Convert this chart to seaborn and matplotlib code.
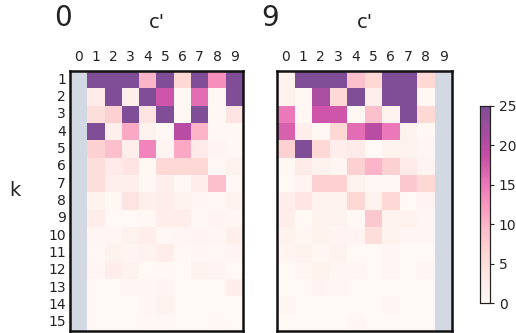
import numpy as np
import pandas as pd
import matplotlib
matplotlib.use("Agg")
import matplotlib.pyplot as plt
from matplotlib.colors import ListedColormap
import seaborn as sns

# Transition counts: rows are k (1..15), columns are c' (0..9).
# The column c' equal to the panel digit is not defined (NaN).
k_values = list(range(1, 16))
c_prime = list(range(10))
nan = np.nan

counts_0 = [
    [nan, 30, 30, 30, 10, 30, 6, 30, 13, 30],
    [nan, 3, 30, 2, 30, 18, 0.5, 16, 0.5, 30],
    [nan, 5, 7, 30, 4, 30, 0.5, 30, 0.5, 4],
    [nan, 30, 2, 11, 1.5, 0.5, 20, 10, 0.5, 0.5],
    [nan, 7, 9, 2, 14, 1, 11, 3, 1, 0.5],
    [nan, 5, 3, 4, 0.5, 6, 6, 6, 0.5, 1.5],
    [nan, 5, 2, 2, 0.5, 2, 0.5, 2.5, 9, 0.5],
    [nan, 1.5, 0.5, 4, 2, 2.5, 1.5, 0.8, 0.5, 1.5],
    [nan, 2.5, 0.3, 0.3, 0.5, 2.5, 2.5, 0.5, 1, 0.8],
    [nan, 0.6, 0.6, 1.5, 2.5, 0.5, 0.6, 1, 0.6, 2],
    [nan, 0.5, 1.5, 1, 1.5, 2.5, 0.5, 0.6, 0.5, 1],
    [nan, 0.6, 2.5, 1.5, 0.3, 0.5, 0.3, 1.5, 1, 0.3],
    [nan, 0.3, 0.3, 0.6, 0.6, 1, 0.3, 0.3, 0.3, 2.5],
    [nan, 0.3, 0.3, 0.3, 0.6, 1.5, 0.3, 0.3, 0.3, 0.3],
    [nan, 0.3, 0.3, 0.3, 0.5, 0.5, 0.3, 0.3, 0.5, 0.3],
]

counts_9 = [
    [1.5, 30, 30, 30, 9, 6, 30, 30, 6, nan],
    [1.5, 0.5, 21, 6, 30, 2, 30, 30, 0.5, nan],
    [15, 0.5, 18, 18, 0.5, 9, 1.5, 30, 6, nan],
    [17, 2.5, 0.5, 6, 16, 20, 15, 1.5, 0.5, nan],
    [7, 30, 6, 2.5, 3, 0.3, 1.5, 1.5, 0.8, nan],
    [0.5, 3, 1.5, 0.8, 7, 10, 7, 3, 1, nan],
    [0.3, 1, 7, 7, 1.5, 0.5, 0.5, 8, 6, nan],
    [2.5, 3.5, 1.5, 1.5, 6, 1.5, 6, 0.3, 1, nan],
    [2.5, 0.3, 1.5, 1.5, 0.3, 8, 1.5, 1.5, 0.8, nan],
    [1.5, 0.6, 1.5, 1, 1, 5, 1.5, 0.6, 0.6, nan],
    [1, 1.5, 0.6, 1.5, 0.3, 0.3, 0.6, 0.3, 0.3, nan],
    [0.3, 0.6, 1.5, 0.6, 0.6, 0.3, 0.6, 0.3, 0.6, nan],
    [0.3, 0.3, 1, 0.6, 0.3, 0.3, 0.3, 0.3, 0.3, nan],
    [0.6, 0.3, 0.3, 0.3, 0.3, 0.3, 0.6, 0.3, 0.3, nan],
    [0.3, 0.3, 0.3, 0.3, 0.8, 0.3, 0.3, 0.3, 0.3, nan],
]

panels = [("0", counts_0), ("9", counts_9)]

# RdPu softened toward white (as if drawn at 70% opacity on white paper)
base = plt.get_cmap("RdPu")(np.linspace(0, 1, 256))[:, :3]
soft = 0.7 * base + 0.3
cmap = ListedColormap(soft, name="RdPu_soft")

sns.set_theme(style="white")
plt.rcParams["font.family"] = ["DejaVu Sans"]

fig = plt.figure(figsize=(5.16, 3.33), dpi=100)
ax_positions = [[0.1357, 0.006, 0.335, 0.781], [0.537, 0.006, 0.339, 0.781]]
cax = fig.add_axes([0.930, 0.090, 0.0194, 0.592])

for i, (digit, counts) in enumerate(panels):
    ax = fig.add_axes(ax_positions[i])
    df = pd.DataFrame(counts, index=k_values, columns=c_prime)
    sns.heatmap(df, ax=ax, cmap=cmap, vmin=0, vmax=25,
                cbar=(i == 0), cbar_ax=cax if i == 0 else None,
                xticklabels=c_prime, yticklabels=k_values if i == 0 else False)
    ax.set_facecolor("#d3d9e3")
    ax.xaxis.tick_top()
    ax.xaxis.set_label_position("top")
    ax.tick_params(axis="both", length=0, labelsize=10, colors="#222222")
    ax.tick_params(axis="x", pad=5)
    ax.tick_params(axis="y", pad=3)
    ax.set_xticklabels(c_prime, rotation=0)
    if i == 0:
        ax.set_yticklabels(k_values, rotation=0)
        ax.set_ylabel("k", fontsize=14, rotation=0, color="#222222",
                      va="center", ha="center")
        ax.yaxis.set_label_coords(-0.32, 0.54)
    else:
        ax.set_ylabel("")
    ax.set_xlabel("c'", fontsize=14, labelpad=16, color="#222222")
    ax.set_title(digit, fontsize=20, loc="left", x=-0.09, y=1.14, color="#222222")
    for s in ax.spines.values():
        s.set_visible(True)
        s.set_color("#111111")
        s.set_linewidth(1.8)

cax.tick_params(labelsize=10, length=3, width=0.8, colors="#222222")
cax.set_yticks([0, 5, 10, 15, 20, 25])
for s in cax.spines.values():
    s.set_visible(True)
    s.set_color("#222222")
    s.set_linewidth(0.8)

fig.savefig("out.png", dpi=100)
